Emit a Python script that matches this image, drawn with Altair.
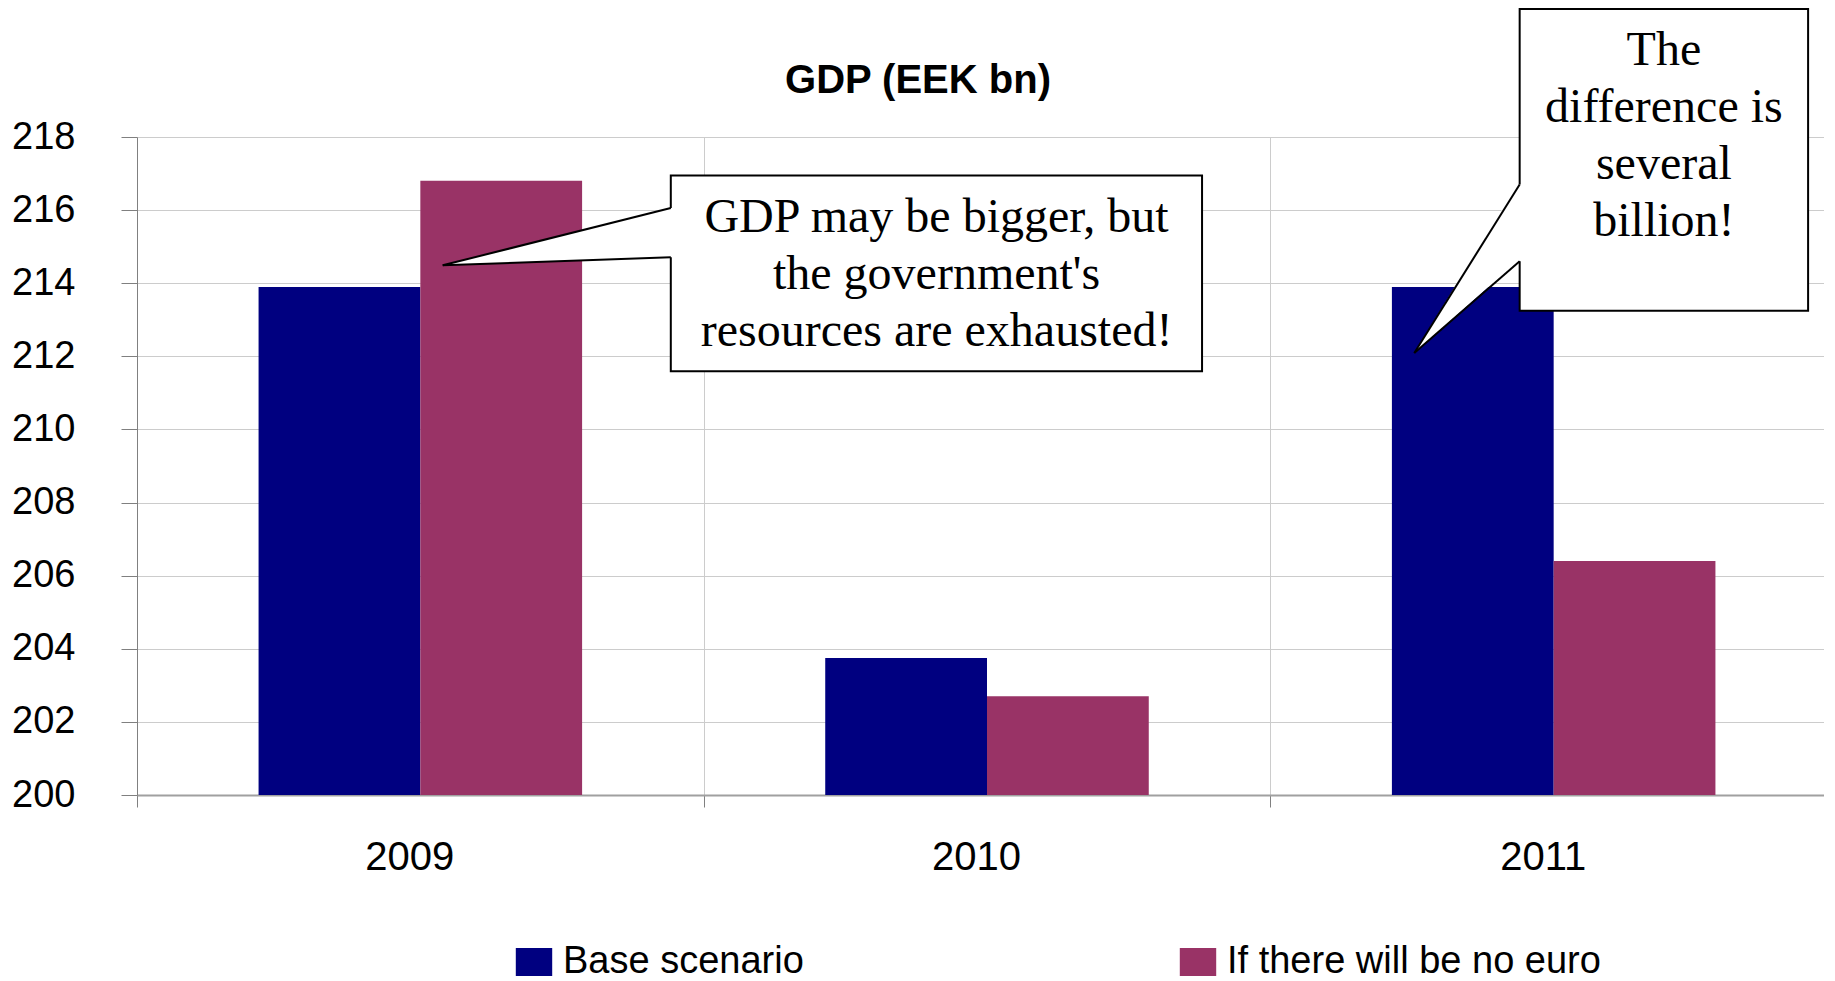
import altair as alt
import pandas as pd

# ---- data ----
years = ["2009", "2010", "2011"]
series = ["Base scenario", "If there will be no euro"]
base_values = [213.9, 203.75, 213.9]
no_euro_values = [216.8, 202.7, 206.4]
colors = ["#000080", "#993366"]
y_ticks = [200, 202, 204, 206, 208, 210, 212, 214, 216, 218]

# callouts, in data units (x: category units 0..3, y: EEK bn)
callout_ids = ["c1", "c2"]
callout_text = [
    "GDP may be bigger, but\nthe government's\nresources are exhausted!",
    "The\ndifference is\nseveral\nbillion!",
]
box_x0 = [0.942, 2.440]
box_x1 = [1.8795, 2.949]
box_ytop = [216.95, 221.5]
box_ybot = [211.59, 213.25]
text_x = [1.411, 2.6945]
text_y = [215.79, 220.34]   # first text line
tip_x = [0.5395, 2.254]
tip_y = [214.49, 212.09]
base_upper = [216.06, 216.70]
base_lower = [214.71, 214.60]

# ---- tables ----
bars_df = pd.DataFrame(
    {
        "year": years * 2,
        "series": [series[0]] * 3 + [series[1]] * 3,
        "value": base_values + no_euro_values,
    }
)
box_df = pd.DataFrame(
    {"id": callout_ids, "x0": box_x0, "x1": box_x1, "y0": box_ybot, "y1": box_ytop}
)
text_df = pd.DataFrame({"id": callout_ids, "x": text_x, "y": text_y, "text": callout_text})

area_rows = []
line_rows = []
for i, cid in enumerate(callout_ids):
    bx = box_x0[i]
    area_rows.append({"id": cid, "x": tip_x[i], "y": tip_y[i], "y2": tip_y[i]})
    area_rows.append({"id": cid, "x": bx - 0.004, "y": base_upper[i], "y2": base_lower[i]})
    area_rows.append({"id": cid, "x": bx + 0.012, "y": base_upper[i], "y2": base_lower[i]})
    line_rows.append({"edge": cid + "u", "o": 0, "x": tip_x[i], "y": tip_y[i]})
    line_rows.append({"edge": cid + "u", "o": 1, "x": bx, "y": base_upper[i]})
    line_rows.append({"edge": cid + "l", "o": 0, "x": tip_x[i], "y": tip_y[i]})
    line_rows.append({"edge": cid + "l", "o": 1, "x": bx, "y": base_lower[i]})
area_df = pd.DataFrame(area_rows)
line_df = pd.DataFrame(line_rows)

SANS = "Liberation Sans"
SERIF = "Liberation Serif"

yscale = alt.Scale(domain=[200, 218], nice=False, zero=False)
xq_scale = alt.Scale(domain=[0, 3], nice=False, zero=False)

bars = alt.Chart(bars_df).mark_bar().encode(
    x=alt.X(
        "year:N",
        sort=years,
        scale=alt.Scale(paddingInner=0, paddingOuter=0),
        title=None,
        axis=alt.Axis(
            tickBand="extent",
            grid=True,
            gridColor="#cccccc",
            gridWidth=1,
            domainColor="#a0a0a0",
            domainWidth=2,
            tickColor="#808080",
            tickSize=12,
            labelFont=SANS,
            labelFontSize=40,
            labelColor="black",
            labelPadding=30,
            labelOffset=-11,
            labelAngle=0,
        ),
    ),
    xOffset=alt.XOffset(
        "series:N", sort=series, scale=alt.Scale(paddingInner=0, paddingOuter=0.7515)
    ),
    y=alt.Y(
        "value:Q",
        scale=yscale,
        title=None,
        axis=alt.Axis(
            values=y_ticks,
            grid=True,
            gridColor="#cccccc",
            gridWidth=1,
            domainColor="#808080",
            tickColor="#808080",
            tickSize=16,
            labelPadding=46,
            labelFont=SANS,
            labelFontSize=38,
            labelColor="black",
        ),
    ),
    y2=alt.datum(200),
    color=alt.Color(
        "series:N",
        sort=series,
        scale=alt.Scale(domain=series, range=colors),
        legend=alt.Legend(
            title=None,
            orient="none",
            legendX=378,
            legendY=806,
            direction="horizontal",
            columns=2,
            columnPadding=375,
            symbolType="M-1.3,-1L1.3,-1L1.3,1L-1.3,1Z",
            symbolSize=784,
            symbolStrokeWidth=0,
            symbolOpacity=1,
            labelFont=SANS,
            labelFontSize=38,
            labelColor="black",
            labelOffset=10,
            labelLimit=0,
        ),
    ),
)

boxes = alt.Chart(box_df).mark_rect(fill="white", stroke="black", strokeWidth=2).encode(
    x=alt.X("x0:Q", scale=xq_scale, axis=None, title=None),
    x2="x1:Q",
    y=alt.Y("y0:Q", scale=yscale, title=None),
    y2="y1:Q",
)

pointer_fill = alt.Chart(area_df).mark_area(fill="white", opacity=1).encode(
    x=alt.X("x:Q", scale=xq_scale, axis=None, title=None),
    y=alt.Y("y:Q", scale=yscale, title=None),
    y2="y2:Q",
    detail="id:N",
)

pointer_lines = alt.Chart(line_df).mark_line(color="black", strokeWidth=2).encode(
    x=alt.X("x:Q", scale=xq_scale, axis=None, title=None),
    y=alt.Y("y:Q", scale=yscale, title=None),
    detail="edge:N",
    order="o:Q",
)

texts = alt.Chart(text_df).mark_text(
    font=SERIF, fontSize=48, lineHeight=57, lineBreak="\n", align="center",
    baseline="middle", color="black",
).encode(
    x=alt.X("x:Q", scale=xq_scale, axis=None, title=None),
    y=alt.Y("y:Q", scale=yscale, title=None),
    text="text:N",
)

chart = (
    alt.layer(bars, boxes, pointer_fill, pointer_lines, texts)
    .resolve_scale(x="independent")
    .properties(
        width=1700,
        height=658,
        padding={"left": 3, "top": 0, "right": -14, "bottom": 0},
        title=alt.Title(
            "GDP (EEK bn)",
            font=SANS,
            fontSize=40,
            fontWeight="bold",
            color="black",
            anchor="middle",
            frame="group",
            dx=-69,
            offset=-93,
        ),
    )
    .configure_view(stroke=None)
)

chart.save("out.html", embed_options={"renderer": "svg", "actions": False})
